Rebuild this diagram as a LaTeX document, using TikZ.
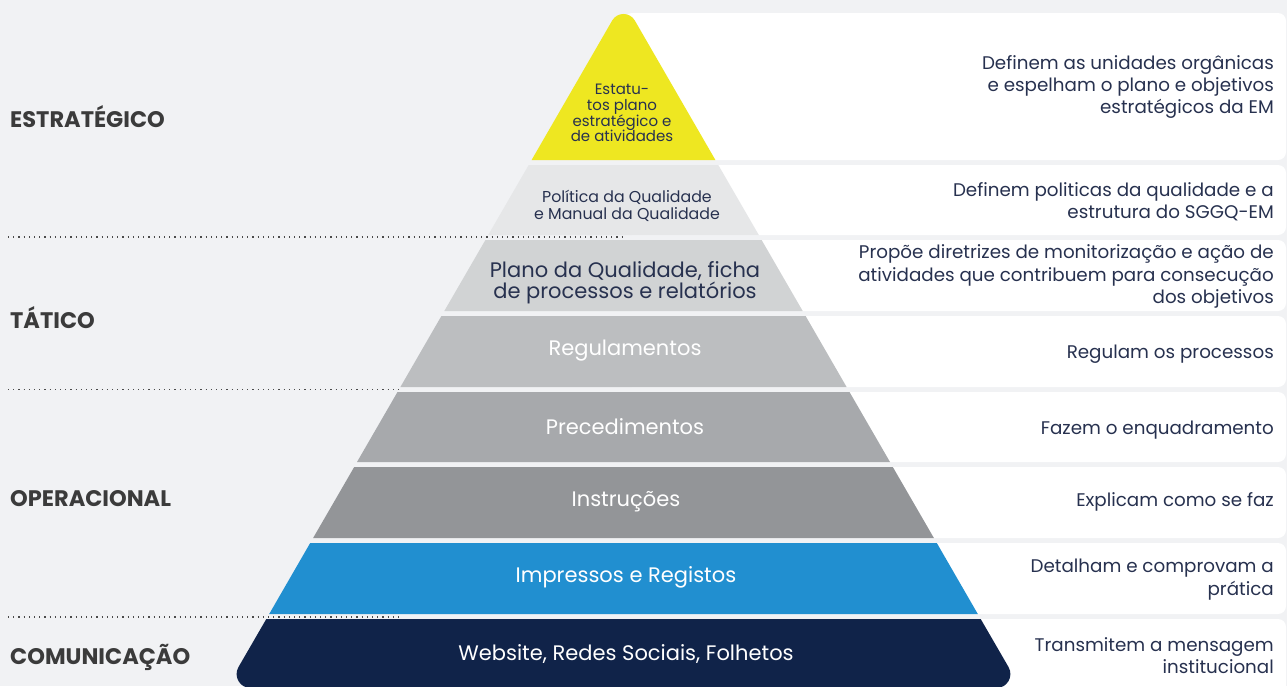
\documentclass[tikz,border=0pt]{standalone}
\usepackage{fontspec}
\setmainfont{Poppins}
\definecolor{bgray}{HTML}{F1F2F4}
\definecolor{cyell}{HTML}{EEE721}
\definecolor{ctwo}{HTML}{E6E7E8}
\definecolor{cthree}{HTML}{D1D3D4}
\definecolor{cfour}{HTML}{BCBEC0}
\definecolor{cfive}{HTML}{A7A9AC}
\definecolor{csix}{HTML}{939598}
\definecolor{cblue}{HTML}{218FD0}
\definecolor{cnavy}{HTML}{102349}
\definecolor{navytext}{HTML}{27314F}
\definecolor{lvlgray}{HTML}{3B3B3B}
\definecolor{dotgray}{HTML}{4A4A4A}
\begin{document}
\begin{tikzpicture}[x=1pt,y=-1pt,
  lvl/.style={anchor=base west,inner sep=0pt,text=lvlgray,font=\bfseries\fontsize{22.5}{24}\selectfont},
  desc/.style={anchor=east,inner sep=0pt,align=right,text=navytext,font=\fontsize{18.3}{22.3}\selectfont},
  tier/.style={align=center,inner sep=0pt,text=white,font=\fontsize{21}{21.5}\selectfont},
  row/.style={fill=white,rounded corners=8pt},
  dots/.style={draw=dotgray,line width=1.1pt,dash pattern=on 1.2pt off 4pt}]
            \fill[bgray] (0,0) rectangle (1287,686);
            \useasboundingbox (0,0) rectangle (1287,686);

            % white rows on the right
            \fill[row] (624,13) rectangle (1286,160);
            \fill[row] (624,165) rectangle (1286,235);
            \fill[row] (624,240) rectangle (1286,311);
            \fill[row] (624,316) rectangle (1286,387);
            \fill[row] (624,392) rectangle (1286,462);
            \fill[row] (624,467) rectangle (1286,538);
            \fill[row] (624,543) rectangle (1286,614);
            \fill[row] (624,619) rectangle (1286,694);

            % pyramid
            \fill[cyell] (531.6,160) -- (612.2,20.5) .. controls (617.2,11.8) and (629.8,11.8) .. (634.8,20.5) -- (715.4,160) -- cycle;
            \fill[ctwo] (528.7,165) -- (718.3,165) -- (758.8,235) -- (488.2,235) -- cycle;
            \fill[cthree] (485.4,240) -- (761.6,240) -- (802.7,311) -- (444.3,311) -- cycle;
            \fill[cfour] (441.4,316) -- (805.6,316) -- (846.6,387) -- (400.4,387) -- cycle;
            \fill[cfive] (397.5,392) -- (849.5,392) -- (890.0,462) -- (357.0,462) -- cycle;
            \fill[csix] (354.2,467) -- (892.8,467) -- (933.9,538) -- (313.1,538) -- cycle;
            \fill[cblue] (310.2,543) -- (936.8,543) -- (977.8,614) -- (269.2,614) -- cycle;
            \fill[cnavy] (266.3,619) -- (980.7,619) -- (1008.5,667.0) .. controls (1013.9,676.4) and (1007.2,688) .. (996.4,688) -- (250.6,688) .. controls (239.8,688) and (233.1,676.4) .. (238.5,667.0) -- cycle;

            % dotted separators
            \draw[dots] (8,237) -- (625,237);
            \draw[dots] (8,389.5) -- (400,389.5);
            \draw[dots] (8,617) -- (400,617);

            % levels
            \node[lvl] (L1) at (10,127.5) {ESTRATÉGICO};
            \node[lvl] (L2) at (10,328.5) {TÁTICO};
            \node[lvl] (L3) at (10,506.5) {OPERACIONAL};
            \node[lvl] (L4) at (10,664.5) {COMUNICAÇÃO};

            % tiers
            \node[tier,text=navytext,font=\fontsize{15}{15.8}\selectfont] (T1) at (622,113) {Estatu-\\tos plano\\estratégico e\\de atividades};
            \node[tier,text=navytext,font=\fontsize{15.8}{17}\selectfont] (T2) at (627,205.5) {Política da Qualidade\\e Manual da Qualidade};
            \node[tier,text=navytext] (T3) at (625,282.5) {Plano da Qualidade, ficha\\de processos e relatórios};
            \node[tier] (T4) at (625,350.5) {Regulamentos};
            \node[tier] (T5) at (625,426.5) {Precedimentos};
            \node[tier] (T6) at (626,501.5) {Instruções};
            \node[tier] (T7) at (626,577.5) {Impressos e Registos};
            \node[tier] (T8) at (626,653.5) {Website, Redes Sociais, Folhetos};

            % descriptions
            \node[desc] (D1) at (1274,87) {Definem as unidades orgânicas\\e espelham o plano e objetivos\\estratégicos da EM};
            \node[desc] (D2) at (1274,202) {Definem politicas da qualidade e a\\estrutura do SGGQ-EM};
            \node[desc] (D3) at (1274,276.5) {Propõe diretrizes de monitorização e ação de\\atividades que contribuem para consecução\\dos objetivos};
            \node[desc] (D4) at (1274,354.5) {Regulam os processos};
            \node[desc] (D5) at (1274,430.5) {Fazem o enquadramento};
            \node[desc] (D6) at (1274,501.5) {Explicam como se faz};
            \node[desc] (D7) at (1274,579.5) {Detalham e comprovam a\\prática};
            \node[desc] (D8) at (1274,655.5) {Transmitem a mensagem\\institucional};
        \end{tikzpicture}
\end{document}
